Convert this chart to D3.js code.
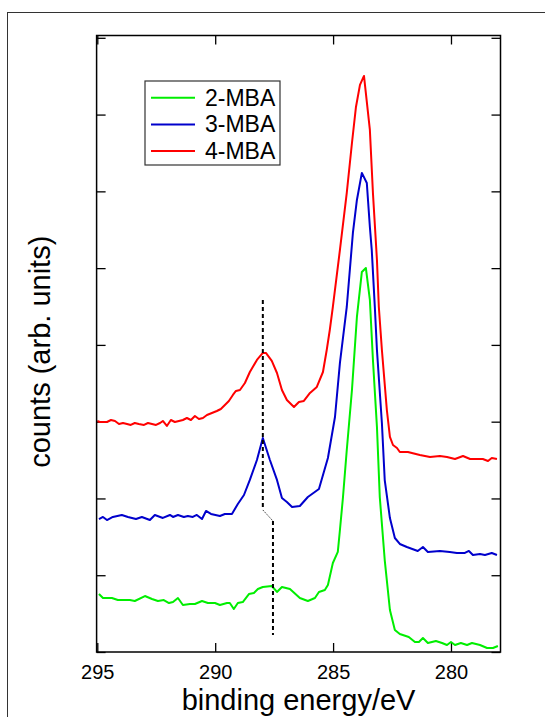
<!DOCTYPE html>
<html>
<head>
<meta charset="utf-8">
<script src="https://cdn.jsdelivr.net/npm/d3@7"></script>
<style>
  body { margin: 0; background: #fff; }
  svg { display: block; font-family: "Liberation Sans", Arial, Helvetica, sans-serif; }
  .axis path.domain { display: none; }
  .axis line { stroke: #000; stroke-width: 1.3; }
</style>
</head>
<body>
<div id="chart"></div>
<script>
// binding energy (eV) and counts (arb. units)
var red_E = [295.0,294.89,294.76,294.59,294.42,294.25,294.08,293.91,293.74,293.58,293.41,293.24,293.02,292.85,292.68,292.51,292.34,292.22,292.05,291.88,291.71,291.54,291.37,291.2,291.03,290.86,290.69,290.52,290.35,290.14,289.93,289.76,289.59,289.42,289.25,289.12,288.95,288.74,288.53,288.23,287.98,287.85,287.6,287.38,287.17,286.96,286.66,286.45,286.24,285.98,285.69,285.43,285.27,285.14,285.01,284.71,284.42,284.2,284.03,283.86,283.69,283.44,283.31,283.14,283.06,282.93,282.72,282.59,282.46,282.29,282.17,281.83,281.32,280.89,280.47,280.17,279.83,279.49,279.19,278.9,278.65,278.43,278.27,278.05];
var red_C = [3.009,2.996,2.996,2.996,3.022,3.009,2.97,2.983,2.97,2.957,2.983,2.97,2.957,2.983,2.97,2.957,2.983,3.009,2.944,3.022,2.996,3.009,3.022,3.048,3.022,3.074,3.035,3.048,3.087,3.113,3.139,3.165,3.217,3.27,3.348,3.4,3.413,3.504,3.647,3.804,3.895,3.895,3.791,3.634,3.413,3.283,3.191,3.257,3.27,3.374,3.452,3.647,3.934,4.194,4.494,5.237,5.979,6.63,7.099,7.386,7.503,6.8,5.979,5.106,4.494,3.934,3.152,2.801,2.696,2.657,2.605,2.605,2.566,2.54,2.553,2.54,2.514,2.553,2.514,2.514,2.514,2.488,2.527,2.514];

var blue_E = [294.93,294.76,294.59,294.34,293.96,293.7,293.36,293.11,292.77,292.56,292.22,291.92,291.79,291.58,291.33,291.16,290.95,290.78,290.56,290.39,290.18,289.8,289.59,289.29,289.04,288.78,288.53,288.23,287.98,287.68,287.38,287.17,286.96,286.74,286.41,286.07,285.6,285.22,284.92,284.71,284.42,284.16,283.99,283.78,283.57,283.44,283.36,283.23,283.14,282.93,282.81,282.59,282.38,282.17,281.87,281.41,281.19,280.98,280.47,280.05,279.75,279.41,279.24,279.07,278.77,278.56,278.27,278.05];
var blue_C = [1.732,1.759,1.719,1.759,1.785,1.759,1.732,1.759,1.719,1.785,1.746,1.785,1.759,1.785,1.759,1.772,1.759,1.785,1.732,1.837,1.798,1.772,1.798,1.798,1.928,2.045,2.241,2.501,2.788,2.501,2.241,2.006,1.954,1.889,1.902,2.019,2.123,2.527,3.061,3.765,4.494,5.458,5.888,6.24,6.109,5.536,5.236,4.494,3.934,2.983,2.24,1.745,1.485,1.407,1.368,1.316,1.368,1.303,1.316,1.303,1.29,1.29,1.316,1.264,1.277,1.264,1.29,1.264];

var green_E = [294.93,294.76,294.38,294.13,293.62,293.41,292.98,292.68,292.43,292.18,291.96,291.79,291.58,291.37,291.07,290.86,290.56,290.31,290.01,289.8,289.5,289.38,289.21,289.04,288.83,288.57,288.36,288.19,287.98,287.6,287.38,287.17,286.83,286.41,286.07,285.77,285.6,285.35,285.22,285.01,284.8,284.71,284.58,284.42,284.2,283.99,283.78,283.61,283.44,283.31,283.14,283.02,282.81,282.59,282.38,282.17,281.79,281.53,281.36,281.19,280.98,280.64,280.38,280.17,280.0,279.83,279.58,279.32,279.11,278.77,278.47,278.22,278.01];
var green_C = [0.755,0.703,0.703,0.677,0.677,0.664,0.729,0.69,0.664,0.677,0.638,0.651,0.703,0.612,0.625,0.625,0.664,0.638,0.638,0.612,0.638,0.638,0.56,0.638,0.651,0.755,0.769,0.821,0.847,0.86,0.782,0.847,0.821,0.703,0.664,0.703,0.782,0.808,0.873,1.159,1.303,1.589,2.019,2.631,3.413,4.364,4.95,5.002,4.585,3.804,2.931,2.019,1.198,0.547,0.287,0.234,0.195,0.13,0.13,0.182,0.117,0.143,0.117,0.091,0.13,0.091,0.117,0.091,0.117,0.091,0.052,0.052,0.078];

// dashed guide through the C=O peak
var guide_E = [287.98, 287.98, 287.55, 287.55];
var guide_C = [4.585, 1.85, 1.706, 0.221];

var seriesNames = ["2-MBA", "3-MBA", "4-MBA"];
var seriesColors = ["#00ee00", "#0000cc", "#ff0000"];
var xTicks = [295, 290, 285, 280];
var yTicks = [0, 1, 2, 3, 4, 5, 6, 7, 8];

var W = 545, H = 717;
var margin = {left: 96.6, right: 500.5, top: 35.5, bottom: 652};

var svg = d3.select("#chart").append("svg")
    .attr("width", W)
    .attr("height", H);

// outer figure border (runs off the right and bottom)
svg.append("rect")
    .attr("x", 7.5).attr("y", 12.5)
    .attr("width", W).attr("height", H)
    .attr("fill", "none")
    .attr("stroke", "#333")
    .attr("stroke-width", 1);

var x = d3.scaleLinear().domain([295.03, 277.9]).range([margin.left, margin.right]);
var y = d3.scaleLinear().domain([0, 8.03]).range([margin.bottom, margin.top]);

var zip = function (E, C) { return E.map(function (e, i) { return [e, C[i]]; }); };
var series = [zip(green_E, green_C), zip(blue_E, blue_C), zip(red_E, red_C)];

var line = d3.line()
    .x(function (d) { return x(d[0]); })
    .y(function (d) { return y(d[1]); });

// axes, ticks pointing inward on all four sides
svg.append("g").attr("class", "axis")
    .attr("transform", "translate(0," + margin.bottom + ")")
    .call(d3.axisBottom(x).tickValues(xTicks).tickSize(-9).tickPadding(13).tickFormat(d3.format("d")))
    .selectAll("text")
    .attr("font-size", 20).attr("fill", "#000")
    .attr("font-family", "Liberation Sans, Arial, sans-serif");

svg.append("g").attr("class", "axis")
    .attr("transform", "translate(0," + margin.top + ")")
    .call(d3.axisTop(x).tickValues(xTicks).tickSize(-9).tickFormat(""));

svg.append("g").attr("class", "axis")
    .attr("transform", "translate(" + margin.left + ",0)")
    .call(d3.axisLeft(y).tickValues(yTicks).tickSize(-9).tickFormat(""));

svg.append("g").attr("class", "axis")
    .attr("transform", "translate(" + margin.right + ",0)")
    .call(d3.axisRight(y).tickValues(yTicks).tickSize(-9).tickFormat(""));

// curves
svg.selectAll(".curve")
    .data(series)
    .enter().append("path")
    .attr("class", "curve")
    .attr("d", line)
    .attr("fill", "none")
    .attr("stroke", function (d, i) { return seriesColors[i]; })
    .attr("stroke-width", 2)
    .attr("stroke-linejoin", "round");

// guide line: dashed verticals, thin dotted step between them
var guide = zip(guide_E, guide_C);
svg.append("path")
    .attr("d", line([guide[0], guide[1]]))
    .attr("stroke", "#000").attr("stroke-width", 2)
    .attr("stroke-dasharray", "4,3").attr("fill", "none");
svg.append("path")
    .attr("d", line([guide[1], guide[2]]))
    .attr("stroke", "#444").attr("stroke-width", 1)
    .attr("stroke-dasharray", "1.5,1").attr("fill", "none");
svg.append("path")
    .attr("d", line([guide[2], guide[3]]))
    .attr("stroke", "#000").attr("stroke-width", 2)
    .attr("stroke-dasharray", "4,3").attr("fill", "none");

// plot frame
svg.append("rect")
    .attr("x", margin.left).attr("y", margin.top)
    .attr("width", margin.right - margin.left).attr("height", margin.bottom - margin.top)
    .attr("fill", "none")
    .attr("stroke", "#000")
    .attr("stroke-width", 1.5);

// legend
var legend = svg.append("g").attr("transform", "translate(145,81)");
legend.append("rect")
    .attr("width", 135).attr("height", 84)
    .attr("fill", "#fff")
    .attr("stroke", "#333").attr("stroke-width", 1.2);

seriesNames.forEach(function (name, i) {
    var row = legend.append("g").attr("transform", "translate(0," + (16.7 + i * 26.7) + ")");
    row.append("line")
        .attr("x1", 6).attr("x2", 50)
        .attr("stroke", seriesColors[i]).attr("stroke-width", 2);
    row.append("text")
        .attr("x", 60).attr("y", 8)
        .attr("font-size", 23)
        .text(name);
});

// axis titles
svg.append("text")
    .attr("x", (margin.left + margin.right) / 2)
    .attr("y", 710)
    .attr("text-anchor", "middle")
    .attr("font-size", 29)
    .text("binding energy/eV");

svg.append("text")
    .attr("transform", "translate(50," + ((margin.top + margin.bottom) / 2 + 8) + ") rotate(-90)")
    .attr("text-anchor", "middle")
    .attr("font-size", 29)
    .text("counts (arb. units)");
</script>
</body>
</html>
